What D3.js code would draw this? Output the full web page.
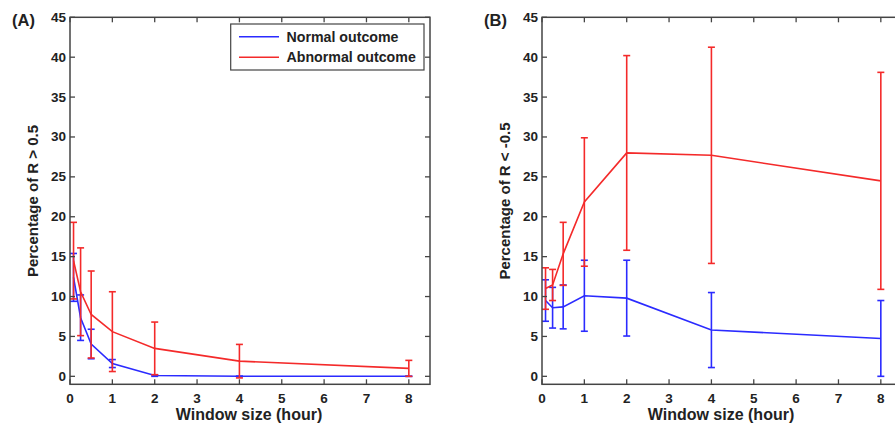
<!DOCTYPE html>
<html>
<head>
<meta charset="utf-8">
<script src="https://cdn.jsdelivr.net/npm/d3@7"></script>
<style>
  body { margin: 0; background: #fff; }
  svg text { font-family: "Liberation Sans", Arial, sans-serif; font-weight: bold; fill: #222; }
</style>
</head>
<body>
<div id="chart"></div>
<script>
// window sizes (hours)
var windows = [1/12, 0.25, 0.5, 1, 2, 4, 8];

// panel A: percentage of R > 0.5 (mean, sd)
var normalA = [12.4, 7.35, 4.05, 1.6, 0.1, 0, 0];
var normalSdA = [3.0, 2.85, 1.85, 0.5, 0.1, 0, 0];
var abnormalA = [14.5, 10.6, 7.75, 5.6, 3.5, 1.9, 1.0];
var abnormalSdA = [4.8, 5.5, 5.45, 5.0, 3.3, 2.1, 1.0];

// panel B: percentage of R < -0.5 (mean, sd)
var normalB = [9.5, 8.6, 8.7, 10.1, 9.8, 5.8, 4.75];
var normalSdB = [2.6, 2.55, 2.75, 4.45, 4.75, 4.7, 4.75];
var abnormalB = [11.0, 11.45, 15.35, 21.85, 28.0, 27.7, 24.5];
var abnormalSdB = [2.6, 1.95, 3.95, 8.05, 12.2, 13.55, 13.6];

var xTicks = [0, 1, 2, 3, 4, 5, 6, 7, 8];
var yTicks = [0, 5, 10, 15, 20, 25, 30, 35, 40, 45];
var seriesNames = ["Normal outcome", "Abnormal outcome"];
var colors = ["#2b2bff", "#f42a2a"];

var svg = d3.select("#chart").append("svg")
  .attr("width", 895)
  .attr("height", 430);

function panel(opts) {
  var x = d3.scaleLinear().domain([0, 8.5]).range([opts.left, opts.left + 360]);
  var y = d3.scaleLinear().domain([-1, 45]).range([384.3, 17.3]);
  var g = svg.append("g");

  var series = [
    {mean: opts.normal, sd: opts.normalSd, color: colors[0]},
    {mean: opts.abnormal, sd: opts.abnormalSd, color: colors[1]}
  ];

  var line = d3.line()
    .x(function(d, i) { return x(windows[i]); })
    .y(function(d) { return y(d); });

  series.forEach(function(s) {
    var sg = g.append("g");
    sg.append("path")
      .attr("d", line(s.mean))
      .attr("fill", "none")
      .attr("stroke", s.color)
      .attr("stroke-width", 1.6);
    s.mean.forEach(function(m, i) {
      var cx = x(windows[i]);
      var lo = y(m - s.sd[i]), hi = y(m + s.sd[i]);
      sg.append("line")
        .attr("x1", cx).attr("x2", cx).attr("y1", lo).attr("y2", hi)
        .attr("stroke", s.color).attr("stroke-width", 1.6);
      [lo, hi].forEach(function(yy) {
        sg.append("line")
          .attr("x1", cx - 3.5).attr("x2", cx + 3.5).attr("y1", yy).attr("y2", yy)
          .attr("stroke", s.color).attr("stroke-width", 1.6);
      });
    });
  });

  // box and inward ticks
  var x0 = x.range()[0], x1 = x.range()[1], y0 = y.range()[1], y1 = y.range()[0];
  g.append("rect")
    .attr("x", x0).attr("y", y0).attr("width", x1 - x0).attr("height", y1 - y0)
    .attr("fill", "none").attr("stroke", "#444").attr("stroke-width", 1.5);

  xTicks.forEach(function(t) {
    g.append("line").attr("x1", x(t)).attr("x2", x(t)).attr("y1", y1).attr("y2", y1 - 5)
      .attr("stroke", "#444").attr("stroke-width", 1.3);
    g.append("line").attr("x1", x(t)).attr("x2", x(t)).attr("y1", y0).attr("y2", y0 + 5)
      .attr("stroke", "#444").attr("stroke-width", 1.3);
    g.append("text").attr("x", x(t)).attr("y", 402.5)
      .attr("text-anchor", "middle").attr("font-size", 13.5).text(t);
  });
  yTicks.forEach(function(t) {
    g.append("line").attr("x1", x0).attr("x2", x0 + 5).attr("y1", y(t)).attr("y2", y(t))
      .attr("stroke", "#444").attr("stroke-width", 1.3);
    g.append("line").attr("x1", x1).attr("x2", x1 - 5).attr("y1", y(t)).attr("y2", y(t))
      .attr("stroke", "#444").attr("stroke-width", 1.3);
    g.append("text").attr("x", x0 - 4).attr("y", y(t) + 4.5)
      .attr("text-anchor", "end").attr("font-size", 13.5).text(t);
  });

  g.append("text").attr("x", x(4.25) - 1).attr("y", 420)
    .attr("text-anchor", "middle").attr("font-size", 16).text("Window size (hour)");
  g.append("text")
    .attr("transform", "translate(" + (opts.left - 32) + ",201) rotate(-90)")
    .attr("text-anchor", "middle").attr("font-size", 15).text(opts.ylabel);
  g.append("text").attr("x", opts.left - 58).attr("y", 26)
    .attr("font-size", 16.5).text(opts.title);

  if (opts.legend) {
    var lg = g.append("g");
    lg.append("rect").attr("x", 230.7).attr("y", 24).attr("width", 193.3).attr("height", 46)
      .attr("fill", "#fff").attr("stroke", "#444").attr("stroke-width", 1.2);
    seriesNames.forEach(function(n, i) {
      var yy = 36.7 + i * 20.6;
      lg.append("line").attr("x1", 239).attr("x2", 279).attr("y1", yy).attr("y2", yy)
        .attr("stroke", colors[i]).attr("stroke-width", 1.6);
      lg.append("text").attr("x", 286.5).attr("y", yy + 5)
        .attr("font-size", 14.2).text(n);
    });
  }
}

panel({left: 70, title: "(A)", ylabel: "Percentage of R > 0.5", legend: true,
  normal: normalA, normalSd: normalSdA, abnormal: abnormalA, abnormalSd: abnormalSdA});
panel({left: 542, title: "(B)", ylabel: "Percentage of R < -0.5", legend: false,
  normal: normalB, normalSd: normalSdB, abnormal: abnormalB, abnormalSd: abnormalSdB});
</script>
</body>
</html>
